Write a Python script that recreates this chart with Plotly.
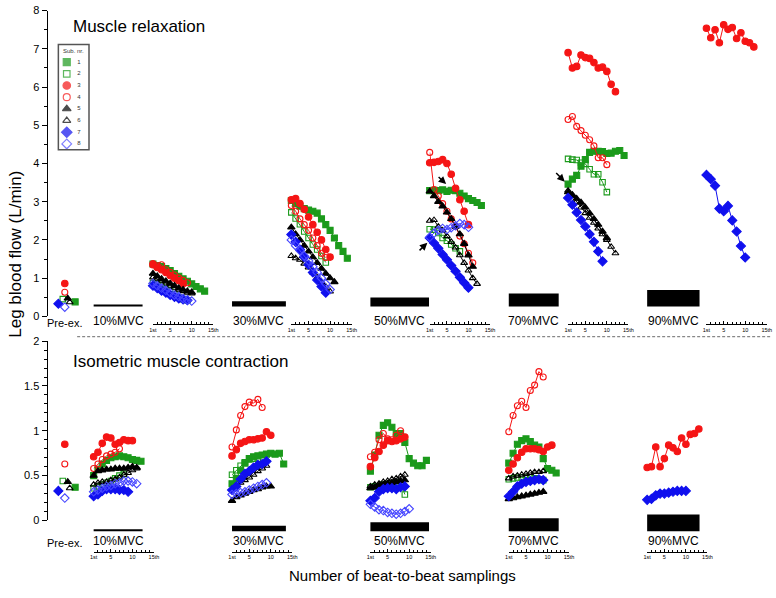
import plotly.graph_objects as go

# ---------------- data ----------------
SUBJECTS = [1, 2, 3, 4, 5, 6, 7, 8]
LEVELS = ["10%MVC", "30%MVC", "50%MVC", "70%MVC", "90%MVC"]
BEAT_TICKS = [1, 5, 10, 15]
BEAT_TICKTEXT = ["1st", "5", "10", "15th"]

PRE_EX_RELAX = [0.38, 0.45, 0.86, 0.63, 0.47, 0.37, 0.33, 0.24]
PRE_EX_CONTR = [0.37, 0.44, 0.85, 0.63, 0.43, 0.36, 0.33, 0.25]

RELAX_10 = {
    1: [1.37, 1.33, 1.30, 1.25, 1.20, 1.12, 1.05, 0.98, 0.92, 0.85, 0.78, 0.72, 0.66],
    2: [0.87, 0.85, 0.80, 0.74, 0.66, 0.58, 0.50, 0.45, 0.42],
    3: [1.35, 1.28, 1.22, 1.15, 1.07, 1.00, 0.93, 0.85],
    4: [1.38, 1.32, 1.35, 1.22, 1.15, 1.08, 1.00, 0.94, 0.88],
    5: [1.12, 1.05, 0.98, 0.92, 0.86, 0.80, 0.74, 0.70, 0.66, 0.63],
    6: [1.02, 0.97, 0.92, 0.86, 0.80, 0.75, 0.70, 0.66, 0.62, 0.60],
    7: [0.80, 0.74, 0.67, 0.62, 0.56, 0.51, 0.47, 0.44, 0.42],
    8: [0.86, 0.80, 0.74, 0.68, 0.62, 0.56, 0.52, 0.47, 0.43, 0.40],
}
RELAX_30 = {
    1: [3.03, 2.95, 2.88, 2.82, 2.78, 2.75, 2.70, 2.55, 2.40, 2.25, 2.05, 1.85, 1.70, 1.52],
    2: [2.72, 2.56, 2.41, 2.22, 2.05, 1.88, 1.75, 1.58, 1.41],
    3: [3.05, 3.08, 2.95, 2.80, 2.60, 2.40, 2.20, 2.00, 1.75, 1.55],
    4: [2.90, 2.75, 2.55, 2.40, 2.25, 2.05, 1.85, 1.65, 1.54],
    5: [2.33, 2.15, 2.00, 1.85, 1.70, 1.55, 1.40, 1.25, 1.12, 1.00, 0.90],
    6: [1.58, 1.52, 1.48, 1.38, 1.28, 1.15, 1.02, 0.90, 0.78, 0.65],
    7: [2.14, 1.95, 1.75, 1.55, 1.35, 1.15, 0.95, 0.78, 0.62],
    8: [2.00, 1.85, 1.72, 1.58, 1.45, 1.30, 1.15, 1.00, 0.85, 0.70],
}
RELAX_50 = {
    1: [3.29, 3.30, 3.29, 3.31, 3.27, 3.30, 3.29, 3.22, 3.15, 3.08, 3.03, 2.98, 2.90],
    2: [2.28, 2.27, 2.18, 2.05, 1.98, 1.88, 1.78, 1.70],
    3: [4.02, 4.03, 4.05, 4.10, 4.00, 3.72, 3.35, 3.05, 2.75, 2.40],
    4: [4.29, 3.32, 3.15, 2.95, 2.75, 2.55, 2.35, 2.10, 1.90, 1.65, 1.40],
    5: [3.27, 3.15, 3.00, 2.88, 2.72, 2.55, 2.35, 2.15, 1.90, 1.60, 1.30],
    6: [2.50, 2.52, 2.35, 2.25, 2.10, 1.95, 1.80, 1.60, 1.40, 1.20, 1.00, 0.85],
    7: [2.05, 1.92, 1.78, 1.62, 1.48, 1.33, 1.18, 1.02, 0.88, 0.75],
    8: [2.07, 2.18, 2.25, 2.30, 2.27, 2.32, 2.37, 2.43, 2.40, 2.33],
}
RELAX_70 = {
    1: [3.46, 3.59, 3.69, 3.93, 4.10, 4.29, 4.32, 4.32, 4.31, 4.26, 4.27, 4.32, 4.34, 4.21],
    2: [4.12, 4.10, 4.09, 4.02, 3.99, 3.85, 3.72, 3.72, 3.51, 3.25],
    3: [6.90, 6.50, 6.54, 6.84, 6.77, 6.75, 6.64, 6.50, 6.52, 6.41, 6.07, 5.88],
    4: [5.15, 5.23, 4.97, 4.86, 4.74, 4.62, 4.46, 4.15, 4.15, 3.97],
    5: [3.25, 3.18, 3.08, 2.98, 2.85, 2.70, 2.55, 2.40, 2.22, 2.05],
    6: [3.29, 3.15, 3.00, 2.85, 2.70, 2.58, 2.45, 2.30, 2.15, 2.00, 1.82, 1.65],
    7: [3.10, 2.92, 2.72, 2.52, 2.35, 2.15, 1.95, 1.70, 1.44],
}
RELAX_90 = {
    3: [7.54, 7.29, 7.50, 7.16, 7.63, 7.51, 7.56, 7.27, 7.42, 7.20, 7.16, 7.05],
    7: [3.70, 3.59, 3.42, 2.82, 2.75, 2.89, 2.51, 2.22, 1.84, 1.54],
}

CONTR_10 = {
    1: [0.50, 0.57, 0.63, 0.67, 0.70, 0.71, 0.72, 0.71, 0.70, 0.68, 0.67, 0.66],
    2: [0.36, 0.38, 0.40, 0.42, 0.44, 0.47, 0.50, 0.52],
    3: [0.71, 0.76, 0.86, 0.93, 0.92, 0.85, 0.87, 0.90, 0.89, 0.89],
    4: [0.58, 0.63, 0.68, 0.72, 0.74, 0.76, 0.80],
    5: [0.50, 0.55, 0.56, 0.57, 0.57, 0.58, 0.58, 0.58, 0.59, 0.60, 0.59],
    6: [0.40, 0.42, 0.43, 0.43, 0.45, 0.46, 0.48, 0.51, 0.53, 0.56, 0.58],
    7: [0.27, 0.29, 0.33, 0.35, 0.35, 0.35, 0.34, 0.34, 0.32],
    8: [0.32, 0.34, 0.36, 0.38, 0.39, 0.41, 0.42, 0.44, 0.44, 0.43, 0.41],
}
CONTR_30 = {
    1: [0.41, 0.47, 0.56, 0.64, 0.69, 0.71, 0.72, 0.73, 0.74, 0.75, 0.74, 0.75, 0.63],
    2: [0.51, 0.56, 0.61, 0.65, 0.68, 0.69, 0.69],
    3: [0.72, 0.79, 0.86, 0.88, 0.90, 0.90, 0.91, 0.92, 0.99, 0.95],
    4: [0.82, 1.01, 1.17, 1.27, 1.32, 1.31, 1.35, 1.26],
    5: [0.22, 0.26, 0.28, 0.30, 0.32, 0.34, 0.35, 0.37, 0.38, 0.38],
    6: [0.35, 0.39, 0.42, 0.45, 0.48, 0.51, 0.55, 0.58, 0.61],
    7: [0.34, 0.38, 0.46, 0.52, 0.55, 0.59, 0.62, 0.63, 0.66],
    8: [0.29, 0.30, 0.31, 0.32, 0.34, 0.36, 0.38, 0.40, 0.42],
}
CONTR_50 = {
    1: [0.55, 0.73, 0.95, 1.06, 1.09, 1.04, 0.97, 0.97, 0.87, 0.69, 0.64, 0.61, 0.61, 0.67],
    2: [0.37, 0.38, 0.38, 0.40, 0.41, 0.41, 0.42, 0.42, 0.29],
    3: [0.60, 0.70, 0.77, 0.84, 0.89, 0.88, 0.89, 0.91, 0.93],
    4: [0.71, 0.76, 0.90, 0.97, 0.91, 0.90, 0.95, 1.00],
    5: [0.36, 0.37, 0.39, 0.40, 0.41, 0.42, 0.43, 0.44, 0.45],
    6: [0.38, 0.40, 0.41, 0.43, 0.44, 0.46, 0.47, 0.49, 0.51],
    7: [0.22, 0.25, 0.32, 0.35, 0.36, 0.36, 0.35, 0.37, 0.38],
    8: [0.18, 0.15, 0.12, 0.11, 0.09, 0.08, 0.07, 0.08, 0.10, 0.13],
}
CONTR_70 = {
    1: [0.64, 0.75, 0.85, 0.89, 0.91, 0.88, 0.84, 0.82, 0.69, 0.58, 0.56, 0.53],
    2: [0.46, 0.47, 0.48, 0.48, 0.48, 0.48, 0.47, 0.46, 0.45],
    3: [0.56, 0.63, 0.70, 0.76, 0.80, 0.80, 0.80, 0.79, 0.77, 0.82, 0.84],
    4: [0.99, 1.17, 1.28, 1.33, 1.26, 1.45, 1.51, 1.66, 1.60],
    5: [0.24, 0.25, 0.26, 0.27, 0.28, 0.29, 0.30, 0.31, 0.32],
    6: [0.47, 0.49, 0.50, 0.51, 0.52, 0.53, 0.54, 0.54, 0.55],
    7: [0.27, 0.32, 0.38, 0.41, 0.43, 0.44, 0.45, 0.46, 0.45],
}
CONTR_90 = {
    3: [0.59, 0.60, 0.82, 0.60, 0.69, 0.84, 0.81, 0.77, 0.92, 0.85, 0.96, 0.97, 1.02],
    7: [0.23, 0.24, 0.28, 0.30, 0.30, 0.31, 0.32, 0.33, 0.33, 0.33],
}

RELAX = [RELAX_10, RELAX_30, RELAX_50, RELAX_70, RELAX_90]
CONTR = [CONTR_10, CONTR_30, CONTR_50, CONTR_70, CONTR_90]

# ---------------- styles / layout geometry ----------------
W, H = 776, 598
FONT = "Liberation Sans, Arial, Helvetica, sans-serif"
GREEN, RED, BLUE, BLUE_L = "#1b9a1b", "#f51515", "#1010ee", "#4646ff"
SYMBOL = {1: "square", 2: "square-open", 3: "circle", 4: "circle-open",
          5: "triangle-up", 6: "triangle-up-open", 7: "diamond", 8: "diamond-open"}
COLOR = {1: GREEN, 2: GREEN, 3: RED, 4: RED, 5: "black", 6: "black", 7: BLUE, 8: BLUE_L}
MSIZE = {1: 6, 2: 5.5, 3: 6.5, 4: 6, 5: 6.5, 6: 6, 7: 7, 8: 6.5}
LEG_MSIZE = {1: 7, 2: 6.5, 3: 7.5, 4: 7, 5: 7.5, 6: 7, 7: 8, 8: 7.5}
PRE_X_PX = {1: 72, 2: 59.5, 3: 61.5, 4: 61.5, 5: 64.5, 6: 66.5, 7: 55, 8: 61.5}

AXIS_X_PX = 43
TOP_Y0, TOP_Y8 = 316.7, 4.7        # pixel rows of 0 and 8 (top panel)
BOT_Y0, BOT_Y2 = 525.0, 342.0      # pixel rows of 0 and 2 (bottom panel)
GROUP_STEP = 140
TOP_START, BOT_START, MINI_W = 150.7, 90.7, 61
TOP_MINI_Y, BOT_MINI_Y = 325, 557
BAR_LEFT0 = 90.7
BAR_LEN = [49.5, 54.5, 59.3, 50.5, 53]
BAR_THICK = [2, 5.5, 9.3, 13.2, 17]
TOP_BAR_BOTTOM, BOT_BAR_BOTTOM = 306.7, 536
TOP_LABEL_Y, BOT_LABEL_Y = 321.5, 546


def px(x):
    return x / W


def py(y):
    return 1 - y / H


fig = go.Figure()
layout = dict(
    width=W, height=H, autosize=False,
    margin=dict(l=0, r=0, t=0, b=0, pad=0),
    paper_bgcolor="white", plot_bgcolor="rgba(0,0,0,0)",
    showlegend=False,
    font=dict(family=FONT, color="black"),
    xaxis=dict(domain=[0, 1], range=[0, W], visible=False, anchor="y"),
    yaxis=dict(domain=[py(TOP_Y0), py(TOP_Y8)], range=[0, 8], anchor="free",
               position=px(AXIS_X_PX), showline=True, linecolor="black", linewidth=1,
               ticks="outside", ticklen=5, tickwidth=1, tickcolor="black", dtick=1,
               tick0=0, minor=dict(dtick=0.5, ticks="outside", ticklen=3, tickcolor="black"),
               showgrid=False, zeroline=False, tickfont=dict(size=11)),
    yaxis2=dict(domain=[py(BOT_Y0), py(BOT_Y2)], range=[0, 2], anchor="free",
                position=px(AXIS_X_PX), showline=True, linecolor="black", linewidth=1,
                ticks="outside", ticklen=5, tickwidth=1, tickcolor="black", dtick=0.5,
                tick0=0, minor=dict(dtick=0.1, ticks="outside", ticklen=3, tickcolor="black"),
                showgrid=False, zeroline=False, tickfont=dict(size=11)),
    yaxis3=dict(domain=[py(146.7), py(51.3)], range=[8.5, 0.5], visible=False,
                anchor="x"),
)

shapes = []
annotations = []


def mini_axis(start, line_y):
    return dict(domain=[px(start), px(start + MINI_W)], range=[1, 15], anchor="free",
                position=py(line_y), side="bottom", showline=True, linecolor="black",
                linewidth=1, ticks="inside", ticklen=3, tickcolor="black", tickwidth=1,
                tickvals=BEAT_TICKS, ticktext=BEAT_TICKTEXT,
                tickfont=dict(size=5.5), ticklabelstandoff=0, ticklabeloverflow="allow",
                minor=dict(tickvals=list(range(1, 16)), ticks="inside", ticklen=2,
                           tickcolor="black"),
                showgrid=False, zeroline=False, layer="above traces")


ax_id = 2
for k, level in enumerate(LEVELS):
    for panel, data, start, line_y, yname in (
            ("top", RELAX[k], TOP_START + k * GROUP_STEP, TOP_MINI_Y, "y"),
            ("bot", CONTR[k], BOT_START + k * GROUP_STEP, BOT_MINI_Y, "y2")):
        layout["xaxis%d" % ax_id] = mini_axis(start, line_y)
        for s in SUBJECTS:
            if s not in data:
                continue
            vals = data[s]
            fig.add_trace(go.Scatter(
                x=list(range(1, len(vals) + 1)), y=vals, xaxis="x%d" % ax_id, yaxis=yname,
                mode="lines+markers", cliponaxis=False, hoverinfo="skip",
                line=dict(color=COLOR[s], width=1),
                marker=dict(symbol=SYMBOL[s], size=MSIZE[s], color=COLOR[s],
                            line=dict(color=COLOR[s], width=1.1))))
        ax_id += 1

    # MVC bars and labels
    left = BAR_LEFT0 + k * GROUP_STEP
    for bottom, lab_y in ((TOP_BAR_BOTTOM, TOP_LABEL_Y), (BOT_BAR_BOTTOM, BOT_LABEL_Y)):
        shapes.append(dict(type="rect", xref="paper", yref="paper",
                           x0=px(left), x1=px(left + BAR_LEN[k]),
                           y0=py(bottom), y1=py(bottom - BAR_THICK[k]),
                           fillcolor="black", line=dict(width=0)))
        annotations.append(dict(text=level, xref="paper", yref="paper",
                                x=px(left + BAR_LEN[k] / 2), y=py(lab_y),
                                showarrow=False, font=dict(size=12),
                                xanchor="center", yanchor="middle"))

# pre-exercise points
for s in SUBJECTS:
    for vals, yname in ((PRE_EX_RELAX, "y"), (PRE_EX_CONTR, "y2")):
        fig.add_trace(go.Scatter(
            x=[PRE_X_PX[s]], y=[vals[s - 1]], xaxis="x", yaxis=yname, mode="markers",
            cliponaxis=False, hoverinfo="skip",
            marker=dict(symbol=SYMBOL[s], size=MSIZE[s], color=COLOR[s],
                        line=dict(color=COLOR[s], width=1.1))))
for lab_y in (TOP_LABEL_Y + 1.5, BOT_LABEL_Y + 1.5):
    annotations.append(dict(text="Pre-ex.", xref="paper", yref="paper", x=px(61),
                            y=py(lab_y), showarrow=False, font=dict(size=11),
                            xanchor="center", yanchor="middle"))

# custom legend
fig.add_trace(go.Scatter(
    x=[63.5] * len(SUBJECTS), y=SUBJECTS, xaxis="x", yaxis="y3", mode="markers",
    cliponaxis=False, hoverinfo="skip",
    marker=dict(symbol=[SYMBOL[s] for s in SUBJECTS], size=[LEG_MSIZE[s] for s in SUBJECTS],
                color=[COLOR[s] for s in SUBJECTS],
                line=dict(color=[COLOR[s] for s in SUBJECTS], width=1.2))))
fig.add_trace(go.Scatter(
    x=[74] * len(SUBJECTS), y=SUBJECTS, xaxis="x", yaxis="y3", mode="text",
    text=[str(s) for s in SUBJECTS], textposition="middle right", cliponaxis=False,
    hoverinfo="skip", textfont=dict(size=6, color="#333")))
shapes.append(dict(type="rect", xref="paper", yref="paper", x0=px(55), x1=px(86),
                   y0=py(146.7), y1=py(39.3), line=dict(color="#555", width=1.5)))
annotations.append(dict(text="Sub. nr.", xref="paper", yref="paper", x=px(70.5),
                        y=py(46), showarrow=False, font=dict(size=6, color="#333"),
                        xanchor="center", yanchor="middle"))

# separator
shapes.append(dict(type="line", xref="paper", yref="paper", x0=px(74), x1=1,
                   y0=py(337.3), y1=py(337.3),
                   line=dict(color="#888", width=1.3, dash="3px,2px")))

# titles
annotations += [
    dict(text="Muscle relaxation", xref="paper", yref="paper", x=px(68), y=py(20.5),
         showarrow=False, font=dict(size=17), xanchor="left", yanchor="middle"),
    dict(text="Isometric muscle contraction", xref="paper", yref="paper", x=px(68),
         y=py(363), showarrow=False, font=dict(size=17), xanchor="left", yanchor="middle"),
    dict(text="Leg blood flow (L/min)", xref="paper", yref="paper", x=px(12), y=py(253),
         showarrow=False, font=dict(size=17), textangle=-90, xanchor="center",
         yanchor="middle"),
    dict(text="Number of beat-to-beat samplings", xref="paper", yref="paper", x=px(403),
         y=py(581), showarrow=False, font=dict(size=15), xanchor="center",
         yanchor="middle"),
]

# arrows
for hx, hy, tx, ty in ((447.3, 181.7, 438.3, 173.3), (428.3, 241.7, 419, 250.7),
                       (567.3, 179.3, 557.3, 169)):
    annotations.append(dict(text="", xref="paper", yref="paper", x=px(hx), y=py(hy),
                            ax=tx - hx, ay=ty - hy, showarrow=True, arrowhead=2,
                            arrowsize=1, arrowwidth=1.5, arrowcolor="black"))

layout["shapes"] = shapes
layout["annotations"] = annotations
fig.update_layout(**layout)

fig.write_html("out.html", config={"displayModeBar": False},
               post_script="document.body.style.margin='0px';")
